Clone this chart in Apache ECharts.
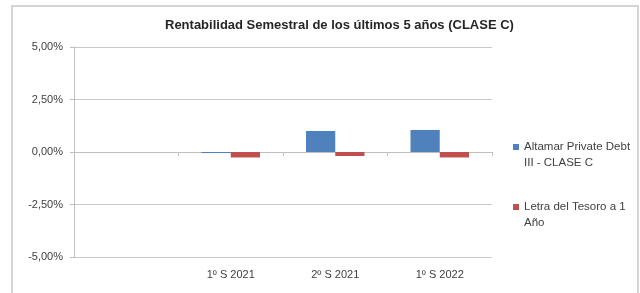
<!DOCTYPE html>
<html>
<head>
<meta charset="utf-8">
<script src="https://cdn.jsdelivr.net/npm/echarts@6/dist/echarts.min.js"></script>
<style>html,body{margin:0;padding:0;background:#fff}#c{width:640px;height:293px}</style>
</head>
<body>
<div id="c"></div>
<script>
const titleText = 'Rentabilidad Semestral de los últimos 5 años (CLASE C)';
const categories = ['', '1º S 2021', '2º S 2021', '1º S 2022'];
const seriesNames = ['Altamar Private Debt III - CLASE C', 'Letra del Tesoro a 1 Año'];
const fundValues = [null, -0.05, 1.00, 1.05];
const letraValues = [null, -0.26, -0.19, -0.26];
const yTicks = [-5, -2.5, 0, 2.5, 5];

const legendLabels = {
  'Altamar Private Debt III - CLASE C': '\nAltamar Private Debt\nIII - CLASE C',
  'Letra del Tesoro a 1 Año': '\nLetra del Tesoro a 1\nAño'
};
const font = 'Liberation Sans';
const chart = echarts.init(document.getElementById('c'), null, {renderer: 'canvas'});
chart.setOption({
  animation: false,
  backgroundColor: '#fff',
  title: {
    text: titleText, left: 165, top: 19, padding: 0,
    textStyle: {fontFamily: font, fontSize: 13, fontWeight: 'bold', color: '#262626'}
  },
  graphic: [{
    type: 'rect', shape: {x: 12, y: 6, width: 626, height: 300},
    style: {fill: 'none', stroke: '#d4d4d4', lineWidth: 2}, silent: true
  }],
  legend: {
    orient: 'vertical', left: 513, top: 123, itemGap: 12, padding: 0,
    itemWidth: 6, itemHeight: 6, icon: 'rect',
    data: seriesNames,
    formatter: n => legendLabels[n],
    textStyle: {fontFamily: font, fontSize: 11.5, color: '#404040', lineHeight: 16}
  },
  grid: {left: 74, right: 148, top: 47, bottom: 36},
  xAxis: [{
    type: 'category', data: categories, position: 'bottom',
    axisLine: {onZero: true, lineStyle: {color: '#bfbfbf', width: 1}},
    axisTick: {show: true, length: 4, lineStyle: {color: '#bfbfbf'}},
    axisLabel: {show: false}
  }, {
    type: 'category', data: categories, position: 'bottom',
    axisLine: {show: false, onZero: false}, axisTick: {show: false},
    axisLabel: {margin: 12, fontFamily: font, fontSize: 11, color: '#404040'}
  }],
  yAxis: {
    type: 'value', min: yTicks[0], max: yTicks[yTicks.length - 1], interval: 2.5,
    axisLine: {show: true, lineStyle: {color: '#bfbfbf'}},
    axisTick: {show: true, length: 4, lineStyle: {color: '#bfbfbf'}},
    splitLine: {lineStyle: {color: '#c8c8c8', width: 1}},
    axisLabel: {
      margin: 11, fontFamily: font, fontSize: 11, color: '#404040',
      formatter: v => v.toFixed(2).replace('.', ',') + '%'
    }
  },
  series: [{
    name: seriesNames[0], type: 'bar', data: fundValues,
    barGap: '0%', barCategoryGap: '44%',
    itemStyle: {color: '#4F81BD'}
  }, {
    name: seriesNames[1], type: 'bar', data: letraValues,
    barGap: '0%', barCategoryGap: '44%',
    itemStyle: {color: '#C0504D'}
  }]
});
</script>
</body>
</html>
